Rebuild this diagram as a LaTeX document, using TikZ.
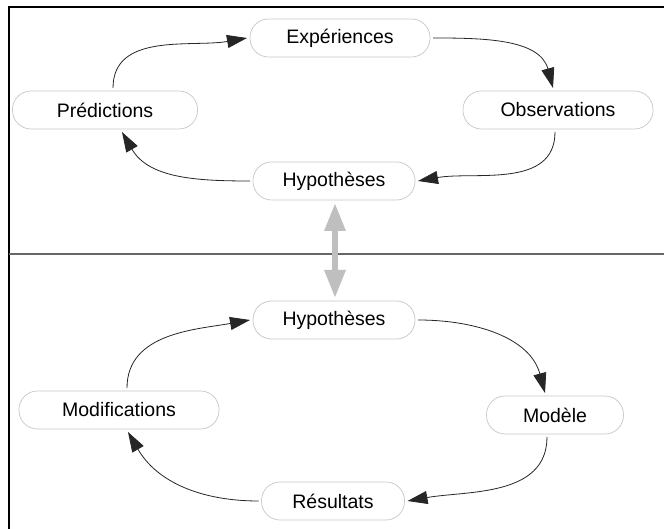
\documentclass[tikz,border=0pt]{standalone}
\usepackage{fontspec}
\setmainfont{Liberation Sans}
\usetikzlibrary{arrows.meta}
\begin{document}
\begin{tikzpicture}[x=1pt,y=1pt,
  oval/.style={draw=black!22, line width=0.7pt, rounded corners=18.5pt,
    minimum height=38pt, inner sep=0pt, outer sep=3pt,
    font=\fontsize{19.5}{22}\selectfont, text=black},
  conn/.style={line width=0.8pt, draw=black!85,
    -{Triangle[length=20pt,width=13pt]}},
  frame/.style={line width=1.3pt, draw=black},
  divider/.style={line width=1.5pt, draw=black!60},
  link/.style={line width=6pt, draw=black!25,
    {Triangle[length=28pt,width=20pt]}-{Triangle[length=28pt,width=20pt]}}
]
\useasboundingbox (0,0) rectangle (664,529);
\fill[white] (0,0) rectangle (664,529);

% frame
\coordinate (tl) at (9,522);
\coordinate (bl) at (9,0);
\coordinate (tr) at (664,522);
\coordinate (dl) at (9,275);
\coordinate (dr) at (664,275);
\draw[frame] (bl) -- (tl) -- (tr);
\draw[divider] (dl) -- (dr);

% top cycle
\node[oval, minimum width=180pt] (exp)  at (340,491) {Expériences};
\node[oval, minimum width=185pt] (pred) at (105,419) {Prédictions};
\node[oval, minimum width=190pt] (obs)  at (558,419) {Observations};
\node[oval, minimum width=162pt] (hyp1) at (334,348) {Hypothèses};

% bottom cycle
\node[oval, minimum width=162pt] (hyp2)  at (334,209) {Hypothèses};
\node[oval, minimum width=200pt] (modif) at (119,119) {Modifications};
\node[oval, minimum width=137pt] (mod)   at (555,114) {Modèle};
\node[oval, minimum width=143pt] (res)   at (333,28)  {Résultats};

% top connectors
\draw[conn] ([xshift=8pt]pred.north) to[out=90,in=190] (exp.west);
\draw[conn] (exp.east) to[out=0,in=105] ([xshift=-5pt]obs.north);
\draw[conn] ([xshift=-3pt]obs.south) to[out=-90,in=10] (hyp1.east);
\draw[conn] (hyp1.west) to[out=180,in=-60] ([xshift=17pt]pred.south);

% bottom connectors
\draw[conn] ([xshift=8pt]modif.north) to[out=90,in=190] (hyp2.west);
\draw[conn] (hyp2.east) to[out=0,in=105] ([xshift=-10pt]mod.north);
\draw[conn] ([xshift=-8pt]mod.south) to[out=-90,in=10] (res.east);
\draw[conn] (res.west) to[out=180,in=-60] ([xshift=9pt]modif.south);

% link between the two hypotheses
\draw[link] ([xshift=1pt]hyp1.south) -- ([xshift=1pt]hyp2.north);
\end{tikzpicture}
\end{document}
